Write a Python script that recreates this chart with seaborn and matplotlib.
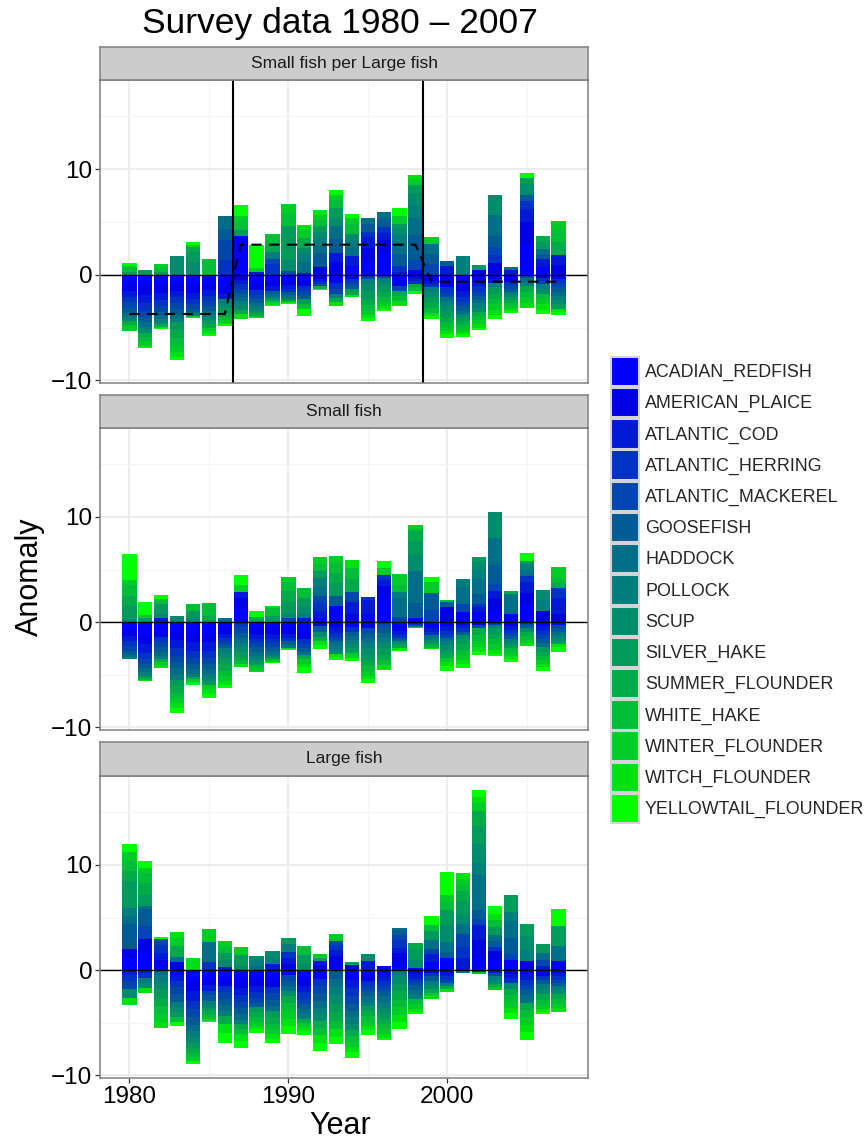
import numpy as np
import pandas as pd
import matplotlib
matplotlib.use("Agg")
import matplotlib.pyplot as plt
import seaborn as sns
from matplotlib.patches import Patch
from matplotlib.ticker import FixedLocator

# ---------------- data ----------------
years = list(range(1980, 2008))
species = ["ACADIAN_REDFISH", "AMERICAN_PLAICE", "ATLANTIC_COD", "ATLANTIC_HERRING",
           "ATLANTIC_MACKEREL", "GOOSEFISH", "HADDOCK", "POLLOCK", "SCUP", "SILVER_HAKE",
           "SUMMER_FLOUNDER", "WHITE_HAKE", "WINTER_FLOUNDER", "WITCH_FLOUNDER",
           "YELLOWTAIL_FLOUNDER"]
panels = ["Small fish per Large fish", "Small fish", "Large fish"]
regime_breaks = [1986.5, 1998.5]

# Panel "Small fish per Large fish"
ratio_acadian_redfish = [-0.8, -1.0, -0.9, -0.8, -0.9, -0.7, -1.2, 3.7, -0.8, -0.6, -0.6, -0.6, 0.7, -0.8, 0.8, 1.2, 2.1, -0.6, -0.3, -0.3, -0.6, -0.8, -0.6, -0.4, -0.4, 2.8, 0.7, -0.4]
ratio_american_plaice = [-0.7, -0.9, -0.8, -0.7, -0.8, -0.7, -0.6, -0.5, -0.6, -0.5, -0.4, -0.5, -0.4, 1.2, -0.4, 1.3, 1.2, -0.5, 0.5, -0.3, -0.6, -0.7, 0.5, 1.1, -0.3, 2.2, -0.3, 0.9]
ratio_atlantic_cod = [-0.6, -0.8, -0.7, -0.6, -0.6, -0.6, -0.5, -0.4, 0.3, -0.4, -0.3, 0.2, -0.3, 0.9, 1.0, 1.1, 0.7, 0.3, -0.3, -0.3, 0.8, -0.6, -0.5, -0.4, 0.5, 1.2, 0.75, 1.0]
ratio_atlantic_herring = [-0.5, -0.7, -0.6, -0.6, -0.5, -0.5, 1.4, -0.4, -0.5, 1.0, -0.3, -0.4, -0.2, -0.5, -0.3, 0.5, 0.5, 0.5, -0.3, -0.3, -0.5, -0.5, -0.5, 0.8, -0.3, 0.8, -0.3, -0.4]
ratio_atlantic_mackerel = [-0.5, -0.6, -0.5, -0.5, -0.4, -0.5, 1.9, -0.4, -0.4, 0.45, 0.4, -0.4, -0.2, -0.5, -0.3, -0.4, -0.3, -0.4, 0.9, 1.0, -0.4, -0.4, -0.4, 0.7, -0.3, -0.3, -0.3, -0.4]
ratio_goosefish = [-0.5, -0.5, -0.4, -0.5, -0.3, -0.4, 1.0, -0.4, -0.4, -0.3, -0.3, -0.4, 1.4, 1.3, -0.3, 0.7, 0.8, 1.2, 2.4, 1.0, 0.46, -0.4, -0.4, 1.1, -0.3, 0.6, 0.5, -0.4]
ratio_haddock = [-0.4, -0.4, -0.3, -0.4, -0.2, -0.4, 1.3, -0.4, -0.3, -0.3, -0.3, 1.0, 0.6, 1.2, 0.8, 0.54, 0.6, 1.0, 1.6, 0.9, -0.4, -0.3, -0.3, 2.0, 0.2, -0.4, 0.5, -0.4]
ratio_pollock = [-0.2, -0.3, -0.3, -0.4, -0.2, -0.3, -0.4, -0.4, -0.3, 0.7, -0.2, 0.8, 0.8, -0.4, 0.7, -0.5, -0.4, 0.8, 1.2, -0.4, -0.4, 1.74, -0.4, -0.4, -0.2, -0.4, -0.4, -0.4]
ratio_scup = [-0.2, -0.3, -0.2, 1.74, 1.2, -0.3, -0.4, -0.4, -0.2, -0.2, 1.0, 0.5, 0.6, 0.8, 0.6, -0.6, -0.4, 0.6, 1.1, -0.5, -0.5, -0.3, -0.4, 1.9, -0.3, 1.0, -0.5, -0.4]
ratio_silver_hake = [0.3, 0.41, 0.3, -0.7, 1.0, -0.3, -0.5, 0.5, -0.2, -0.2, 3.2, -0.5, 0.5, 0.9, -0.3, -0.8, -0.5, 0.4, 0.8, -0.5, -0.6, -0.4, 0.38, -0.6, -0.3, 0.6, 0.7, -0.4]
ratio_summer_flounder = [-0.4, -0.4, -0.2, -0.8, 0.4, -0.3, -0.4, -0.4, -0.2, 0.9, -0.2, 1.0, -0.2, -0.4, -0.3, -0.6, -0.5, -0.5, -0.3, -0.5, -0.5, -0.4, -0.4, -0.5, -0.3, -0.5, 0.48, 1.2]
ratio_white_hake = [0.4, -0.4, 0.4, -0.7, -0.1, 1.45, -0.3, 0.8, -0.1, 0.77, 1.2, -0.4, 0.6, 0.8, 0.9, -0.5, -0.5, -0.5, -0.3, -0.5, -0.4, -0.3, -0.4, -0.5, -0.3, -0.5, -0.5, 1.1]
ratio_winter_flounder = [-0.54, -0.35, 0.28, -0.6, 0.26, -0.3, -0.3, 0.6, 0.34, -0.2, 0.87, 0.8, 0.5, 0.5, 0.6, -0.4, -0.4, 0.8, 0.6, 0.64, -0.4, -0.3, -0.4, -0.5, -0.2, -0.6, -0.5, 0.86]
ratio_witch_flounder = [0.2, -0.2, -0.15, -0.5, -0.1, -0.3, -0.1, -0.5, -0.1, -0.17, -0.1, 0.38, 0.4, -0.37, -0.22, -0.3, -0.2, -0.47, 0.32, -0.3, -0.3, -0.2, -0.3, -0.5, -0.2, -0.46, -0.5, -0.3]
ratio_yellowtail_flounder = [0.17, -0.1, -0.1, -0.29, 0.2, -0.2, -0.17, 0.97, 2.2, -0.1, -0.08, -0.72, -0.15, 0.4, 0.32, -0.29, -0.24, 0.69, -0.33, -0.3, -0.4, -0.3, -0.24, -0.4, -0.23, 0.4, -0.43, -0.32]

# Panel "Small fish"
small_acadian_redfish = [-0.7, -1.2, -0.8, -0.9, -1.0, -1.0, -0.6, 1.3, -0.6, -0.6, -0.6, -0.9, 0.4, 1.5, -0.5, 0.8, 2.5, -0.4, 0.35, -0.3, -0.4, 1.0, 1.0, 1.2, 0.8, 1.6, -0.4, -0.3]
small_american_plaice = [-0.6, -0.9, -0.6, -0.8, -0.9, -0.9, -0.5, 1.0, -0.5, -0.5, -0.5, -0.7, -0.4, -0.5, 0.8, -0.6, 0.9, -0.4, -0.1, -0.3, 1.4, -0.3, -0.3, 1.0, -0.4, 1.2, 1.1, 0.8]
small_atlantic_cod = [-0.5, -0.8, 0.4, -0.8, -0.8, -0.8, -0.4, 0.6, -0.5, -0.5, -0.4, 0.4, 0.7, -0.5, 1.1, 1.3, 0.6, -0.4, -0.1, -0.3, -0.4, -0.3, 0.4, 0.8, -0.3, 1.0, -0.4, 1.5]
small_atlantic_herring = [-0.5, -0.6, -0.5, -0.7, -0.7, -0.7, -0.4, -0.5, -0.4, -0.4, -0.3, -0.5, 0.7, -0.4, -0.4, 0.33, 0.5, -0.3, -0.1, -0.3, -0.4, -0.3, 0.3, -0.3, -0.3, 0.6, -0.4, 0.9]
small_atlantic_mackerel = [-0.4, -0.5, -0.5, -0.6, -0.6, -0.6, -0.3, -0.5, -0.4, -0.4, 0.4, -0.4, 0.7, -0.4, 1.0, -0.4, -0.5, 0.5, -0.1, 1.2, -0.3, 0.7, -0.3, 0.6, -0.3, -0.3, -0.4, -0.3]
small_goosefish = [-0.3, -0.4, -0.4, -0.6, -0.5, -0.5, -0.3, -0.5, -0.4, -0.3, -0.3, -0.3, -0.5, 1.0, -0.4, -0.5, -0.5, -0.3, 1.5, 1.6, 0.5, -0.3, 1.0, 1.8, -0.3, -0.3, -0.4, -0.3]
small_haddock = [-0.3, -0.3, -0.4, -0.6, -0.4, -0.4, 0.35, -0.5, -0.4, -0.3, -0.3, -0.3, 0.8, -0.5, -0.4, -0.5, -0.5, 1.8, 3.0, -0.3, -0.3, 1.6, 1.4, 2.6, 1.9, 0.6, -0.4, -0.3]
small_pollock = [-0.21, -0.3, -0.3, -0.5, -0.3, -0.4, -0.4, -0.4, -0.3, -0.2, -0.1, 0.5, 0.9, -0.4, -0.4, -0.5, -0.5, 0.6, -0.07, -0.2, -0.4, 0.84, 0.9, -0.3, -0.3, 0.5, 1.0, -0.3]
small_scup = [0.3, -0.2, 0.5, 0.63, 0.5, -0.3, -0.5, -0.4, -0.3, -0.2, 0.5, 0.6, -0.5, -0.3, -0.4, -0.6, -0.5, -0.3, 1.5, -0.2, -0.4, -0.4, 0.7, 2.49, -0.3, -0.3, 1.0, -0.3]
small_silver_hake = [1.2, 0.4, 0.8, -0.6, 0.6, -0.4, -0.6, -0.5, -0.3, 0.6, 1.0, 0.8, 0.7, 1.2, -0.4, -0.6, -0.6, -0.2, 1.4, -0.2, -0.4, -0.5, 0.52, -0.5, -0.3, 0.3, -0.4, -0.3]
small_summer_flounder = [1.0, -0.2, -0.3, -0.6, -0.2, 0.6, -0.6, -0.4, 0.5, -0.2, 1.1, -0.4, -0.4, 1.0, 1.2, -0.5, -0.5, -0.2, 1.0, -0.2, -0.4, -0.5, -0.6, -0.5, 0.3, -0.4, -0.4, 0.5]
small_white_hake = [1.0, -0.1, 0.5, -0.5, 0.67, 1.26, -0.5, -0.3, -0.3, 0.7, 0.8, 0.99, 0.6, 0.9, 1.0, -0.5, -0.5, 0.6, -0.05, -0.2, 0.25, -0.5, -0.6, -0.5, -0.4, -0.4, -0.4, 0.5]
small_winter_flounder = [0.5, 0.26, -0.3, -0.5, -0.2, -0.4, -0.5, 0.67, -0.2, -0.2, 0.53, -0.5, 0.72, 0.72, -0.5, -0.4, 0.6, 1.11, 0.51, 1.0, -0.4, -0.5, -0.6, -0.5, -0.3, -0.3, -0.4, 1.08]
small_witch_flounder = [0.0, -0.09, -0.26, -0.5, -0.2, -0.4, -0.4, -0.27, -0.14, 0.28, -0.05, -0.3, -0.4, -0.3, 0.84, -0.3, -0.45, -0.15, -0.03, -0.06, -0.4, -0.4, -0.4, -0.4, -0.3, -0.27, -0.3, -0.3]
small_yellowtail_flounder = [2.51, 1.3, 0.42, -0.43, -0.17, -0.4, -0.26, 0.95, 0.6, -0.09, -0.1, -0.53, -0.36, -0.3, -0.3, -0.38, 0.75, -0.1, -0.02, 0.53, -0.44, -0.36, -0.33, -0.22, -0.29, 0.8, -0.34, -0.44]

# Panel "Large fish"
large_acadian_redfish = [1.2, 1.6, 0.4, -0.5, -1.0, -0.8, -0.8, -0.9, -0.8, -0.9, -0.5, -0.8, -0.8, 0.6, -0.9, -0.5, -0.5, 0.8, 0.2, 0.8, 1.2, -0.1, 1.1, 1.0, 1.0, -0.4, -0.3, 0.9]
large_american_plaice = [0.8, 1.4, 0.6, 0.75, -1.0, -0.6, -0.7, -0.8, -0.7, -0.7, 0.6, -0.7, 0.5, 0.7, 0.5, -0.5, 0.44, 0.8, -0.4, -0.3, -0.3, 0.0, 1.8, 0.8, -0.4, 0.9, -0.3, -0.3]
large_atlantic_cod = [-0.5, -0.3, 0.6, -0.5, -0.9, -0.6, 0.3, -0.7, -0.6, 0.6, 0.6, -0.6, 0.4, 0.6, -0.8, 0.9, -0.5, 0.5, -0.4, 0.7, -0.3, 1.2, 1.4, -0.3, -0.4, -0.5, 0.4, -0.3]
large_atlantic_herring = [-0.5, -0.4, 0.8, -0.6, -0.8, 0.75, -0.6, -0.6, -0.5, -0.6, 0.5, -0.6, -0.7, 0.5, -0.8, -0.5, -0.5, 0.8, -0.3, -0.3, -0.3, 1.0, -0.2, 0.4, -0.4, -0.5, -0.3, -0.3]
large_atlantic_mackerel = [-0.8, 1.2, 0.4, -0.7, -0.8, -0.4, -0.6, -0.6, -0.5, -0.6, -0.5, -0.5, -0.7, 0.4, -0.7, -0.5, -0.5, 0.4, -0.3, 0.5, -0.3, 1.2, 0.6, -0.3, 0.5, -0.4, 0.6, -0.3]
large_goosefish = [2.4, 1.6, 0.19, -0.7, -0.7, -0.5, -0.6, -0.6, -0.4, -0.6, -0.5, -0.5, -0.7, -0.8, -0.7, -0.5, -0.5, 0.5, -0.5, -0.4, 0.5, 0.0, 0.8, 0.6, 1.6, -0.6, -0.4, -0.3]
large_haddock = [0.7, 0.3, -0.5, 0.5, -0.6, 1.9, -0.6, -0.5, 0.4, -0.5, -0.5, -0.5, -0.7, -0.8, -0.6, -0.5, -0.6, 0.24, -0.5, 0.9, 1.0, 1.0, 3.3, 0.5, 1.6, -0.7, 0.6, 1.4]
large_pollock = [0.8, -0.5, -0.6, -0.5, -0.6, -0.4, -0.5, -0.4, 0.6, 0.6, 0.8, -0.4, -0.6, -0.8, -0.6, -0.4, -0.5, -0.6, -0.3, -0.4, -0.3, -0.18, 1.2, -0.4, 0.8, 1.0, -0.5, -0.4]
large_scup = [-0.8, -0.5, -0.7, -0.5, -0.5, -0.3, 0.7, 0.4, 0.3, 0.66, -0.5, 0.6, -0.6, -0.8, -0.6, 0.59, -0.5, -0.7, 0.8, -0.4, 1.6, 0.8, 1.8, -0.3, -0.6, 1.3, -0.5, -0.4]
large_silver_hake = [2.6, 1.0, -0.8, -0.5, -0.5, -0.3, 0.6, 1.0, -0.5, -0.6, 0.6, 0.8, 0.3, -0.8, 0.32, -0.5, -0.5, -0.7, 1.0, 0.8, 1.4, 1.4, 1.7, 0.8, 1.67, 1.22, 0.93, 1.9]
large_summer_flounder = [0.9, 1.2, -0.8, 1.0, -0.5, -0.4, -0.7, -0.5, -0.5, -0.6, -0.6, -0.4, -0.7, -0.8, -0.6, -0.5, -0.5, -0.8, 0.62, -0.4, -0.3, 0.9, 1.4, -0.3, -0.6, -0.7, -0.5, -0.4]
large_white_hake = [1.0, 0.9, -0.8, -0.4, -0.4, -0.3, 0.6, -0.5, -0.4, -0.5, -0.7, 0.94, -0.7, -0.8, -0.5, -0.5, -0.5, -0.7, -0.5, 0.6, 0.8, 0.6, -0.18, 0.7, -0.6, -0.7, -0.5, -0.5]
large_winter_flounder = [0.8, 0.5, -0.7, 0.8, -0.3, 1.3, 0.61, 0.84, -0.4, -0.5, -0.8, -0.4, 0.38, 0.68, -0.5, -0.4, -0.5, -0.8, -0.5, -0.3, 0.6, 0.6, 0.8, -0.3, -0.6, -0.7, -0.4, -0.4]
large_witch_flounder = [-0.72, -0.48, -0.6, 0.62, 1.2, -0.2, -0.9, -0.6, -0.3, -0.4, -0.7, -0.4, -0.7, -0.8, -0.5, -0.4, -0.34, -0.6, -0.3, -0.25, -0.29, 0.56, 0.6, 0.5, -0.5, -0.7, -0.3, -0.38]
large_yellowtail_flounder = [0.8, 0.7, 0.2, -0.41, -0.31, -0.13, -0.92, -0.69, -0.37, -0.42, -0.77, -0.36, -0.78, -0.61, -0.54, -0.46, -0.2, -0.69, -0.17, 0.88, 2.25, 0.0, 0.6, 0.83, -0.54, -0.74, -0.17, 1.65]

# ---------------- assemble ----------------
series = {
    panels[0]: [ratio_acadian_redfish, ratio_american_plaice, ratio_atlantic_cod, ratio_atlantic_herring,
                ratio_atlantic_mackerel, ratio_goosefish, ratio_haddock, ratio_pollock, ratio_scup,
                ratio_silver_hake, ratio_summer_flounder, ratio_white_hake, ratio_winter_flounder,
                ratio_witch_flounder, ratio_yellowtail_flounder],
    panels[1]: [small_acadian_redfish, small_american_plaice, small_atlantic_cod, small_atlantic_herring,
                small_atlantic_mackerel, small_goosefish, small_haddock, small_pollock, small_scup,
                small_silver_hake, small_summer_flounder, small_white_hake, small_winter_flounder,
                small_witch_flounder, small_yellowtail_flounder],
    panels[2]: [large_acadian_redfish, large_american_plaice, large_atlantic_cod, large_atlantic_herring,
                large_atlantic_mackerel, large_goosefish, large_haddock, large_pollock, large_scup,
                large_silver_hake, large_summer_flounder, large_white_hake, large_winter_flounder,
                large_witch_flounder, large_yellowtail_flounder],
}
rows = []
for p in panels:
    for sp, vals in zip(species, series[p]):
        for y, v in zip(years, vals):
            rows.append((p, sp, y, v))
df = pd.DataFrame(rows, columns=["panel", "species", "year", "anomaly"])

# ---------------- style ----------------
sns.set_theme(style="white")
plt.rcParams["font.family"] = ["Liberation Sans", "DejaVu Sans"]

palette = ["#0000FF", "#0000E6", "#0019D7", "#0032C3", "#0046B0", "#005A96", "#006E87",
           "#007D7D", "#008C6C", "#009B5A", "#00AA48", "#00BE37", "#00CC28", "#00E114", "#00FF00"]
colors = dict(zip(species, palette))

W, H = 865, 1144
fig = plt.figure(figsize=(W / 100, H / 100), dpi=100)
fig.patch.set_facecolor("white")

left = 100 / W
width = 488 / W
plot_boxes = [(80, 383), (428, 730), (776, 1078)]
strip_boxes = [(47, 80), (395, 428), (742, 776)]

xlim = (1978.15, 2008.85)
ylim = (-10.25, 18.45)
border = "#7F7F7F"

for i, p in enumerate(panels):
    t, b = plot_boxes[i]
    ax = fig.add_axes([left, 1 - b / H, width, (b - t) / H])
    sub = df[df["panel"] == p].pivot(index="year", columns="species", values="anomaly")[species]
    pos_base = np.zeros(len(sub))
    neg_base = np.zeros(len(sub))
    for sp in species:
        v = sub[sp].to_numpy()
        base = np.where(v >= 0, pos_base, neg_base)
        ax.bar(sub.index, v, bottom=base, width=0.9, color=colors[sp], linewidth=0, zorder=2)
        pos_base = pos_base + np.where(v >= 0, v, 0)
        neg_base = neg_base + np.where(v < 0, v, 0)
    ax.axhline(0, color="black", lw=1.0, zorder=4)
    if i == 0:
        net = sub.sum(axis=1)
        edges = [-np.inf] + regime_breaks + [np.inf]
        period = pd.cut(net.index, edges, labels=False)
        means = net.groupby(period).transform("mean")
        ax.plot(net.index, means.to_numpy(), color="black", lw=1.5, ls=(0, (5, 3.5)), zorder=5)
        for xb in regime_breaks:
            ax.axvline(xb, color="black", lw=1.5, zorder=5)
    ax.set_xlim(*xlim)
    ax.set_ylim(*ylim)
    ax.set_facecolor("white")
    ax.xaxis.set_major_locator(FixedLocator([1980, 1990, 2000]))
    ax.xaxis.set_minor_locator(FixedLocator([1985, 1995, 2005]))
    ax.yaxis.set_major_locator(FixedLocator([-10, 0, 10]))
    ax.yaxis.set_minor_locator(FixedLocator([-5, 5, 15]))
    ax.grid(which="major", color="#EBEBEB", lw=1.3, zorder=0)
    ax.grid(which="minor", color="#F4F4F4", lw=0.8, zorder=0)
    ax.set_axisbelow(True)
    for s in ax.spines.values():
        s.set_color(border)
        s.set_linewidth(1.1)
        s.set_zorder(6)
    ax.tick_params(axis="y", which="major", left=True, length=3.5, width=0.9, color="#333333",
                   labelsize=17.5, labelcolor="black", pad=2)
    ax.tick_params(which="minor", length=0)
    ax.set_yticklabels(["\u221210", "0", "10"])
    if i == 2:
        ax.tick_params(axis="x", which="major", bottom=True, length=3.5, width=0.9, color="#333333",
                       labelsize=17.5, labelcolor="black", pad=2)
    else:
        ax.tick_params(axis="x", which="major", bottom=False, labelbottom=False)
    ax.set_xlabel("")
    ax.set_ylabel("")

    st, sb = strip_boxes[i]
    sax = fig.add_axes([left, 1 - sb / H, width, (sb - st) / H])
    sax.set_facecolor("#CCCCCC")
    sax.set_xticks([])
    sax.set_yticks([])
    for s in sax.spines.values():
        s.set_color(border)
        s.set_linewidth(1.1)
    sax.text(0.5, 0.5, p, ha="center", va="center", fontsize=12.5, color="#1A1A1A",
             transform=sax.transAxes)

fig.text(340 / W, 1 - 23 / H, "Survey data 1980 \u2013 2007", ha="center", va="center",
         fontsize=25.5, color="black")
fig.text(340 / W, 1 - 1126 / H, "Year", ha="center", va="center", fontsize=22, color="black")
fig.text(30 / W, 1 - 577 / H, "Anomaly", ha="center", va="center", rotation=90, fontsize=22,
         color="black")

handles = [Patch(facecolor=colors[sp], edgecolor="#D4D4D4", linewidth=1.5, label=sp) for sp in species]
fig.legend(handles=handles, loc="center left", bbox_to_anchor=(611 / W, 1 - 590 / H),
           frameon=False, fontsize=12.9, handlelength=1.55, handleheight=2.15,
           handletextpad=0.35, labelspacing=0.1, borderpad=0, borderaxespad=0)

fig.savefig("out.png", dpi=100, facecolor="white")
